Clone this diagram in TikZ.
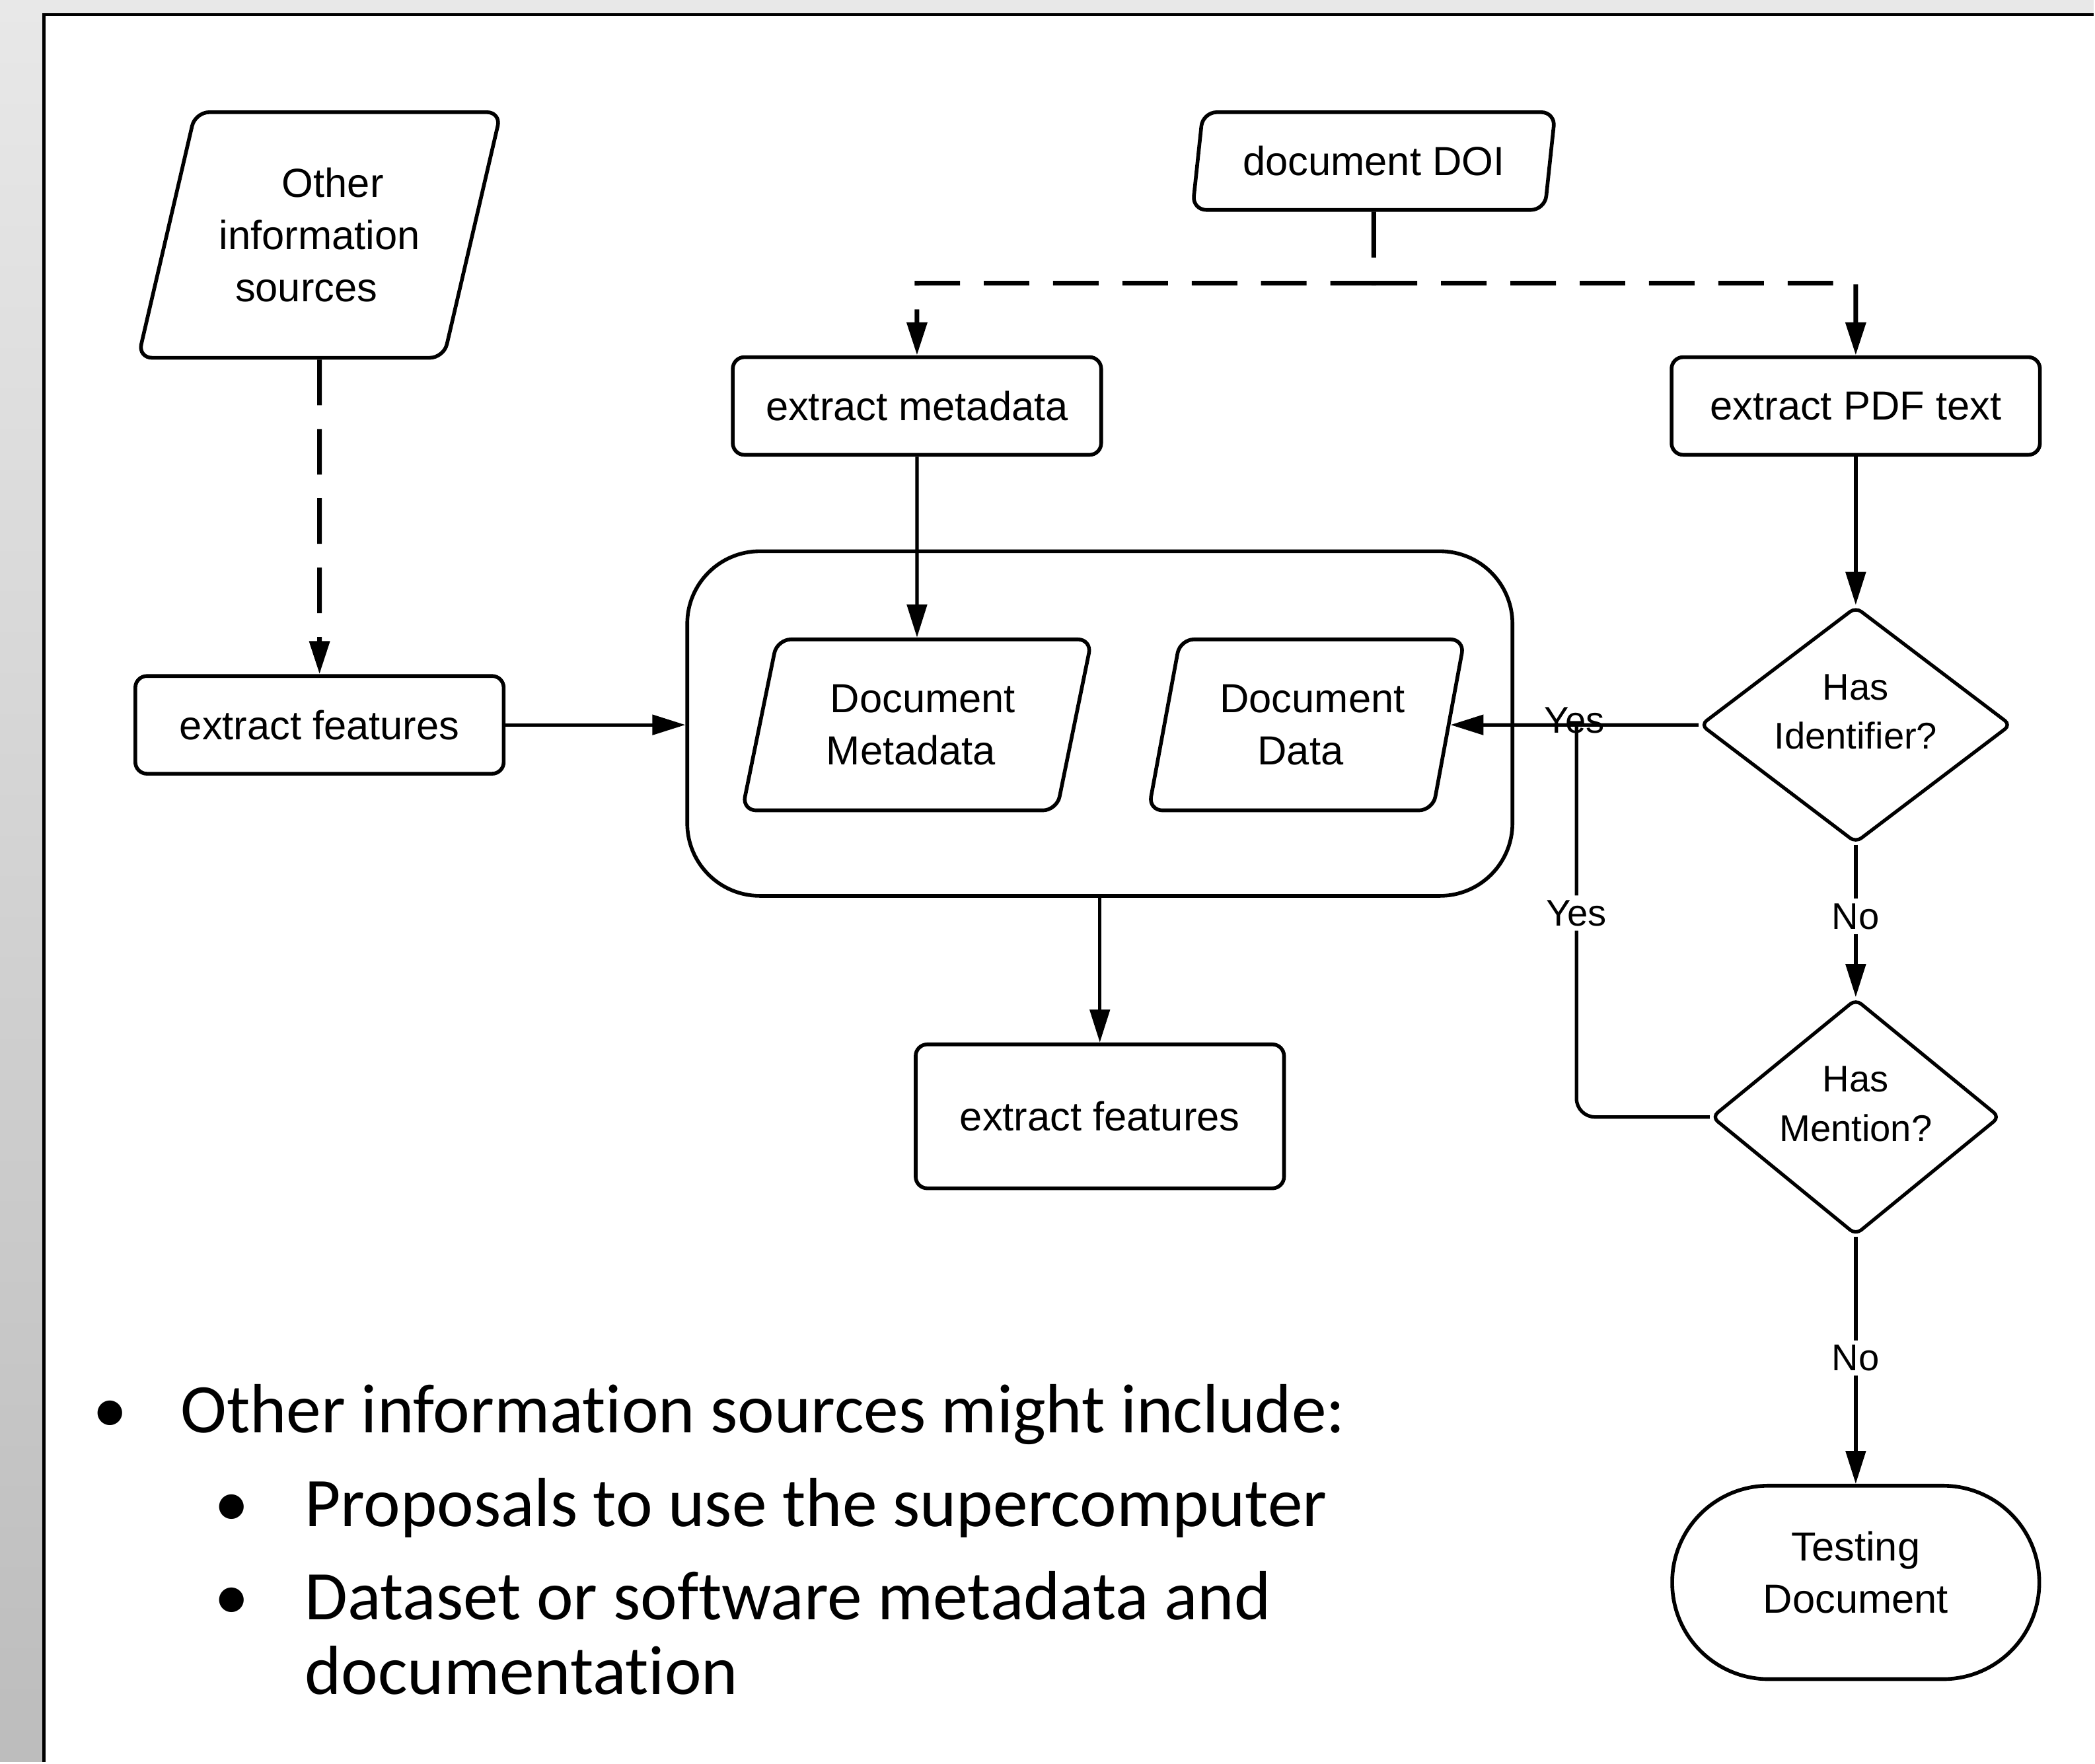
\documentclass[tikz,border=0pt]{standalone}
\usepackage{fontspec}
\setmainfont{Liberation Sans}
\newfontfamily\slidefont{Carlito}[Ligatures=NoCommon]
\usetikzlibrary{shapes.geometric,arrows.meta}
\newcommand\chartsize{\fontsize{17.5}{22.5}\selectfont}
\newcommand\asksize{\fontsize{16}{21.3}\selectfont}
\newcommand\slidesize{\slidefont\fontsize{30}{32}\selectfont}

\begin{document}
\begin{tikzpicture}[>={Triangle[length=5mm,width=3mm]},
    box/.style={draw,line width=1.6pt,rounded corners=5pt,minimum width=5.58cm,
      minimum height=1.48cm,align=center,font=\chartsize},
    para/.style={draw,line width=1.6pt,rounded corners=6pt,shape=trapezium,
      trapezium stretches=true,trapezium left angle=73,trapezium right angle=107,
      inner sep=0pt,align=center,font=\chartsize},
    ask/.style={draw,line width=1.5pt,rounded corners=3pt,shape=diamond,aspect=1.3,
      inner sep=0pt,minimum height=3.58cm,text depth=0.4cm,align=center,font=\asksize},
    flow/.style={line width=1.5pt},
    dashflow/.style={line width=2pt,dash pattern=on 6.9mm off 3.6mm},
    lbl/.style={fill=white,inner sep=2pt,font=\asksize},
    slide/.style={anchor=base west,inner sep=0pt,font=\slidesize}]
  % slide background and frame
  \fill[black!9] (0,0) rectangle (31.71,-26.69);
  \shade[top color=black!9,bottom color=black!26] (0,0) rectangle (0.67,-26.69);
  \fill[white] (0.67,-0.22) rectangle (31.71,-26.69);
  \draw[line width=1.4pt] (0.67,-26.69) -- (0.67,-0.22) -- (31.71,-0.22);
  \useasboundingbox (0,0) rectangle (31.71,-26.69);

  % inputs
  \node[para,trapezium left angle=71,trapezium right angle=109,
    minimum width=5.5cm,minimum height=3.72cm] (othersrc) at (4.84,-3.56)
    {\hspace*{0.4cm}Other\\information\\sources\hspace*{0.4cm}};
  \node[para,trapezium left angle=75,trapezium right angle=105,
    minimum width=5.5cm,minimum height=1.48cm] (doi) at (20.81,-2.44)
    {document DOI};

  % extraction steps
  \node[box] (featL) at (4.84,-10.98) {extract features};
  \node[box] (extMeta) at (13.89,-6.15) {extract metadata};
  \node[box] (extPdf) at (28.11,-6.15) {extract PDF text};

  % document store
  \node[draw,line width=1.6pt,rounded corners=1.1cm,minimum width=12.5cm,
    minimum height=5.22cm] (docstore) at (16.66,-10.96) {};
  \node[para,minimum width=5.3cm,minimum height=2.59cm] (docMeta) at (13.89,-10.98)
    {\hspace*{0.18cm}Document\\Metadata\hspace*{0.18cm}};
  \node[para,minimum width=4.79cm,minimum height=2.59cm] (docData) at (19.79,-10.98)
    {\hspace*{0.18cm}Document\\Data\hspace*{0.18cm}};
  \node[box,minimum height=2.18cm] (featB) at (16.66,-16.91) {extract features};

  % decisions
  \node[ask,minimum width=4.71cm] (hasId) at (28.11,-10.98) {Has\\Identifier?};
  \node[ask,minimum width=4.37cm] (hasMen) at (28.11,-16.92) {Has\\Mention?};
  \node[box,rounded corners=14.6mm,minimum width=5.56cm,minimum height=2.93cm,
    text depth=0.3cm] (testDoc) at (28.11,-23.97) {Testing\\Document};

  % connectors
  \coordinate (split) at (20.81,-4.29);
  \coordinate (yesjoin) at (23.88,-10.98);
  \draw[dashflow,->] (othersrc.south) -- (featL.north);
  \draw[dashflow,->] (doi.south) -- (split) -| (extMeta.north);
  \draw[dashflow,->] (doi.south) -- (split) -| (extPdf.north);
  \draw[flow,->] (featL.east) -- (featL.east -| docstore.west);
  \draw[flow,->] (extMeta.south) -- (docMeta.north);
  \draw[flow,->] (extPdf.south) -- (hasId.north);
  \draw[flow,->] (docstore.south) -- (featB.north);
  \draw[flow,->] (hasId.west) -- node[font=\asksize,pos=0.5,yshift=2pt] {Yes} (docData.east);
  \draw[flow,rounded corners=8pt] (hasMen.west) -| node[lbl,pos=0.76] {Yes} (yesjoin);
  \draw[flow,->] (hasId.south) -- node[lbl,pos=0.47] {No} (hasMen.north);
  \draw[flow,->] (hasMen.south) -- node[lbl,pos=0.49] {No} (testDoc.north);

  % notes
  \node[slide] (b1) at (1.4,-21.70) {\textbullet};
  \node[slide] (t1) at (2.73,-21.70) {Other information sources might include:};
  \node[slide] (b2) at (3.24,-23.12) {\textbullet};
  \node[slide] (t2) at (4.61,-23.12) {Proposals to use the supercomputer};
  \node[slide] (b3) at (3.24,-24.53) {\textbullet};
  \node[slide] (t3) at (4.61,-24.53) {Dataset or software metadata and};
  \node[slide] (t4) at (4.61,-25.66) {documentation};
\end{tikzpicture}
\end{document}
